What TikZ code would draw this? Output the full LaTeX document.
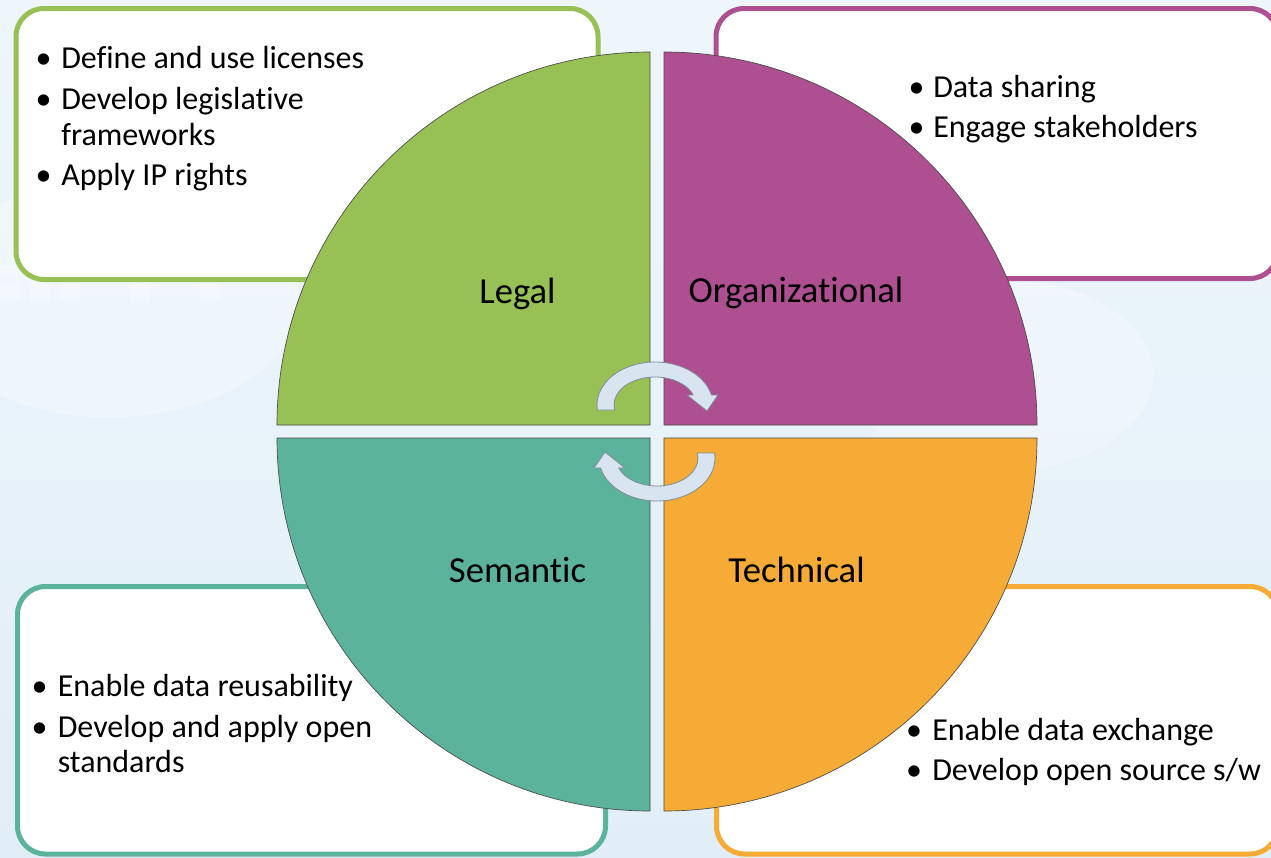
\documentclass[tikz,border=0pt]{standalone}
\usepackage{fontspec}
\setmainfont{Carlito}[Ligatures={NoCommon,NoRequired,NoContextual}]
\definecolor{lgreen}{HTML}{98C155}
\definecolor{lpurple}{HTML}{AE4F91}
\definecolor{lteal}{HTML}{5BB39B}
\definecolor{lorange}{HTML}{F5AB35}
\definecolor{bgtop}{HTML}{EEF6FB}
\definecolor{bgbot}{HTML}{E1EEF8}
\definecolor{arrowfill}{HTML}{D9E4F1}
\definecolor{arrowline}{HTML}{7F8B98}
\definecolor{quadline}{HTML}{4A4A4A}
\newcommand\brk{\kern0pt }
\tikzset{
  infobox/.style={line width=3.75pt, fill=white, rounded corners=21pt},
  quad/.style={draw=quadline, line width=0.5pt},
  arrowstyle/.style={fill=arrowfill, draw=arrowline, line width=0.6pt, line join=round},
  item/.style={anchor=base west, inner sep=0pt, text=black, font=\fontsize{24}{28}\selectfont},
  bul/.style={anchor=base, inner sep=0pt, text=black, font=\fontsize{24}{28}\selectfont},
  qlabel/.style={anchor=base, inner sep=0pt, text=black, font=\fontsize{27.5}{32}\selectfont},
  cycarrow/.pic={
    \filldraw[arrowstyle] (-57.6,-5) arc[start angle=186.7, end angle=13.4, x radius=43.5pt, y radius=32.25pt]
      -- (63,10) -- (52,-6) -- (32,10) -- (38.3,10)
      arc[start angle=20.9, end angle=190.3, x radius=30.75pt, y radius=21pt] -- cycle;
  }
}
\begin{document}
\begin{tikzpicture}[x=0.75pt, y=0.75pt]
\useasboundingbox (0,0) rectangle (1271,-857);
\clip (0,0) rectangle (1271,-857);
% background
\shade[top color=bgtop, bottom color=bgbot] (0,0) rectangle (1271,-857);
\fill[white, opacity=0.3] (110,-300) ellipse [x radius=142pt, y radius=88pt];
\fill[white, opacity=0.3] (1000,-375) ellipse [x radius=115pt, y radius=72pt];
\foreach \bx in {0,30,60,130,200,330,400,470,520} {
  \fill[white, opacity=0.3] (\bx,-265) rectangle ++(20,-12);
  \fill[white, opacity=0.3] (\bx,-283) rectangle ++(20,-18);
}
% info boxes
\draw[infobox, draw=lgreen] (16,-8.5) rectangle (598,-279.5);
\draw[infobox, draw=lpurple] (716,-8.5) rectangle (1278,-278.5);
\draw[infobox, draw=lteal] (17.5,-586.5) rectangle (605.5,-854);
\draw[infobox, draw=lorange] (716.5,-586.5) rectangle (1278,-854);
% quadrants
\filldraw[quad, fill=lgreen] (650,-425) -- (277,-425) arc[start angle=180, end angle=90, radius=279.75pt] -- cycle;
\filldraw[quad, fill=lpurple] (664,-425) -- (664,-52) arc[start angle=90, end angle=0, radius=279.75pt] -- cycle;
\filldraw[quad, fill=lteal] (650,-438) -- (650,-811) arc[start angle=270, end angle=180, radius=279.75pt] -- cycle;
\filldraw[quad, fill=lorange] (664,-438) -- (1037,-438) arc[start angle=0, end angle=-90, radius=279.75pt] -- cycle;
% quadrant labels
\node[qlabel] (legal) at (517.5,-303) {Legal};
\node[qlabel] (org) at (796,-302) {Organizat\brk ional};
\node[qlabel] (sem) at (517.5,-582) {Semant\brk ic};
\node[qlabel] (tech) at (796.5,-582.5) {Technical};
% cycle arrows
\pic at (655,-405) {cycarrow};
\pic[rotate=180] at (657,-458) {cycarrow};
% Legal items
\node[bul] (lb1) at (43.5,-68) {\textbullet};
\node[item] (li1) at (61,-68) {Def\brk ine and use licenses};
\node[bul] (lb2) at (43.5,-109) {\textbullet};
\node[item] (li2) at (61,-109) {Develop legislat\brk ive};
\node[item] (li2b) at (61,-145) {frameworks};
\node[bul] (lb3) at (43.5,-185) {\textbullet};
\node[item] (li3) at (61,-185) {Apply IP rights};
% Organizational items
\node[bul] (ob1) at (916.5,-97) {\textbullet};
\node[item] (oi1) at (933,-97) {Data sharing};
\node[bul] (ob2) at (916.5,-137) {\textbullet};
\node[item] (oi2) at (933,-137) {Engage stakeholders};
% Semantic items
\node[bul] (sb1) at (39.5,-696) {\textbullet};
\node[item] (si1) at (57.5,-696) {Enable data reusability};
\node[bul] (sb2) at (39.5,-737) {\textbullet};
\node[item] (si2) at (57.5,-737) {Develop and apply open};
\node[item] (si2b) at (57.5,-772) {standards};
% Technical items
\node[bul] (tb1) at (914,-740) {\textbullet};
\node[item] (ti1) at (932,-740) {Enable data exchange};
\node[bul] (tb2) at (914,-780) {\textbullet};
\node[item] (ti2) at (932,-780) {Develop open source s/w};
\end{tikzpicture}
\end{document}
